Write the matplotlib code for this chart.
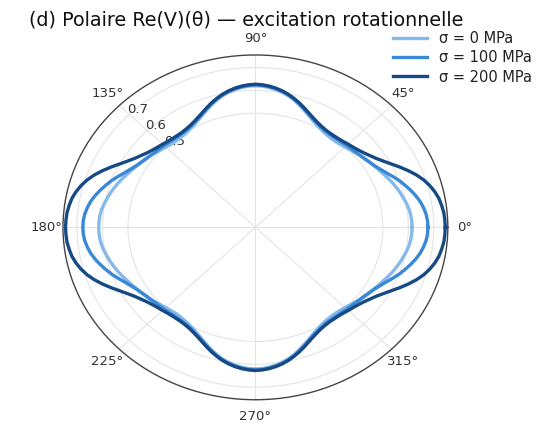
import numpy as np
import matplotlib.pyplot as plt

# angles (deg) for the first quadrant, the curves are mirrored into the others
theta_q = [0, 2.5, 5, 7.5, 10, 12.5, 15, 17.5, 20, 22.5, 25, 27.5, 30, 32.5, 35,
           37.5, 40, 42.5, 45, 47.5, 50, 52.5, 55, 57.5, 60, 62.5, 65, 67.5, 70,
           72.5, 75, 77.5, 80, 82.5, 85, 87.5, 90]

r_0 = [0.615, 0.614, 0.612, 0.608, 0.602, 0.595, 0.588, 0.580, 0.572, 0.563,
       0.554, 0.546, 0.538, 0.532, 0.526, 0.518, 0.510, 0.503, 0.497, 0.493,
       0.490, 0.490, 0.492, 0.496, 0.503, 0.512, 0.523, 0.536, 0.550, 0.565,
       0.579, 0.591, 0.601, 0.609, 0.615, 0.619, 0.620]
r_100 = [0.677, 0.676, 0.672, 0.665, 0.656, 0.644, 0.630, 0.615, 0.600, 0.583,
         0.566, 0.552, 0.540, 0.531, 0.523, 0.518, 0.513, 0.510, 0.507, 0.504,
         0.502, 0.501, 0.502, 0.505, 0.510, 0.518, 0.528, 0.541, 0.555, 0.569,
         0.583, 0.595, 0.605, 0.613, 0.619, 0.623, 0.624]
r_200 = [0.745, 0.744, 0.742, 0.737, 0.731, 0.721, 0.708, 0.692, 0.672, 0.649,
         0.625, 0.601, 0.580, 0.562, 0.548, 0.536, 0.527, 0.520, 0.515, 0.510,
         0.507, 0.506, 0.506, 0.509, 0.514, 0.522, 0.532, 0.544, 0.558, 0.572,
         0.585, 0.597, 0.607, 0.615, 0.621, 0.625, 0.627]

labels = ['σ = 0 MPa', 'σ = 100 MPa', 'σ = 200 MPa']
colors = ['#85b9ec', '#3a88d8', '#174a84']
rticks = [0.5, 0.6, 0.7]


def full_turn(r_quarter):
    # mirror the quadrant: 0..90 -> 90..180 -> 180..270 -> 270..360
    t = np.array(theta_q, dtype=float)
    r = np.array(r_quarter)
    th = np.concatenate([t, 180 - t[::-1][1:], 180 + t[1:], 360 - t[::-1][1:]])
    rr = np.concatenate([r, r[::-1][1:], r[1:], r[::-1][1:]])
    return np.deg2rad(th), rr


fig = plt.figure(figsize=(5.36, 4.23), dpi=100)
ax = fig.add_axes([0.1175, 0.055, 0.718, 0.815], projection='polar')
ax.set_aspect('auto')

for rq, lab, col in zip([r_0, r_100, r_200], labels, colors):
    th, rr = full_turn(rq)
    ax.plot(th, rr, color=col, lw=2.4, label=lab, solid_joinstyle='round')

ax.set_ylim(0, 0.755)
ax.set_rticks(rticks)
ax.set_rlabel_position(136)
ax.set_thetagrids(np.arange(0, 360, 45))
ax.tick_params(axis='both', labelsize=9.5, colors='#333333')
ax.tick_params(axis='x', pad=1.5)
ax.grid(color='#e4e4e4', lw=0.8)
ax.spines['polar'].set_color('#444444')
ax.spines['polar'].set_linewidth(1.0)

fig.text(0.055, 0.953, '(d) Polaire Re(V)(θ) — excitation rotationnelle',
         fontsize=13.8, va='center', ha='left', color='#111111')
leg = ax.legend(loc='upper left', bbox_to_anchor=(0.723, 0.941),
                bbox_transform=fig.transFigure, frameon=False, fontsize=10.5,
                handlelength=2.3, handletextpad=0.8, labelspacing=0.3,
                borderaxespad=0)
for t in leg.get_texts():
    t.set_color('#222222')

fig.savefig('out.png', dpi=100)
